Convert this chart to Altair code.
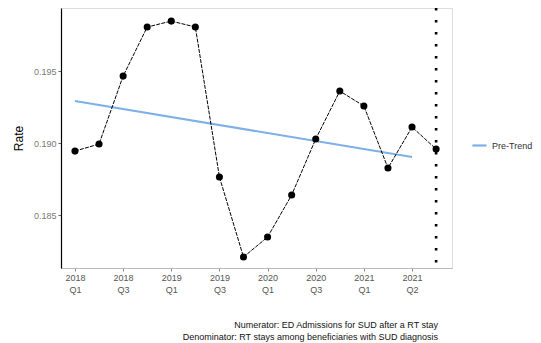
import altair as alt
import pandas as pd

# Quarterly rate series (quarter index 1 = 2018 Q1)
quarter_idx = list(range(1, 17))
rates = [0.18944, 0.18993, 0.19465, 0.19806, 0.19847, 0.19806, 0.18764, 0.18208,
         0.18347, 0.18639, 0.19028, 0.19361, 0.19257, 0.18826, 0.19111, 0.18958]

# Pre-period linear trend endpoints
trend_idx = [1, 15]
trend_vals = [0.19292, 0.18903]

# Tick labels on the x axis (every second quarter)
tick_idx = [1, 3, 5, 7, 9, 11, 13, 15]
tick_years = ["2018", "2018", "2019", "2019", "2020", "2020", "2021", "2021"]
tick_qtrs = ["Q1", "Q3", "Q1", "Q3", "Q1", "Q3", "Q1", "Q2"]

# Intervention marker
event_idx = 16

caption = ["Numerator: ED Admissions for SUD after a RT stay",
           "Denominator: RT stays among beneficiaries with SUD diagnosis"]

series = pd.DataFrame({"q": quarter_idx, "rate": rates})
trend = pd.DataFrame({"q": trend_idx, "rate": trend_vals, "series": ["Pre-Trend"] * 2})
event = pd.DataFrame({"q": [event_idx]})

label_map = "{" + ",".join(
    f"'{i}': ['{y}', '{q}']" for i, y, q in zip(tick_idx, tick_years, tick_qtrs)
) + "}"

FONT = "Liberation Sans"

x_scale = alt.Scale(domain=[0.42, 16.66], nice=False, zero=False)
y_scale = alt.Scale(domain=[0.18132, 0.19938], nice=False, zero=False)

x_axis = alt.Axis(
    values=tick_idx, title=None, grid=False,
    labelExpr=f"{label_map}[datum.value + '']",
    labelFont=FONT, labelFontSize=9, labelColor="#555555", labelLineHeight=12,
    domainColor="#bbbbbb", domainWidth=1, tickColor="#888888", tickSize=3,
    labelPadding=2,
)
y_axis = alt.Axis(
    values=[0.185, 0.190, 0.195], format=".3f", title="Rate", grid=False,
    labelFont=FONT, labelFontSize=9, labelColor="#777777",
    titleFont=FONT, titleFontSize=12, titleColor="#000000", titleFontWeight="normal",
    domainColor="#000000", domainWidth=1.2, tickColor="#666666", tickSize=3,
    titlePadding=8,
)

base_x = alt.X("q:Q", scale=x_scale, axis=x_axis)

line = alt.Chart(series).mark_line(color="black", strokeWidth=1, strokeDash=[4, 1.2]).encode(
    x=base_x,
    y=alt.Y("rate:Q", scale=y_scale, axis=y_axis),
)
points = alt.Chart(series).mark_circle(color="black", size=50, opacity=1).encode(
    x=alt.X("q:Q", scale=x_scale),
    y=alt.Y("rate:Q", scale=y_scale),
)
trend_line = alt.Chart(trend).mark_line(strokeWidth=2.2).encode(
    x=alt.X("q:Q", scale=x_scale),
    y=alt.Y("rate:Q", scale=y_scale),
    color=alt.Color(
        "series:N",
        scale=alt.Scale(domain=["Pre-Trend"], range=["#7cb0e6"]),
        legend=alt.Legend(
            title=None, orient="none", legendX=410, legendY=129,
            symbolType="stroke", symbolStrokeWidth=2.2, symbolSize=200,
            labelFont=FONT, labelFontSize=9, labelColor="#333333",
        ),
    ),
)
event_rule = alt.Chart(event).mark_rule(
    color="black", strokeWidth=2.6, strokeDash=[2.5, 9.5], strokeCap="butt"
).encode(
    x=alt.X("q:Q", scale=x_scale),
    y=alt.value(0),
    y2=alt.value(264),
)

chart = alt.layer(trend_line, line, points, event_rule).properties(
    width=391,
    height=260,
    autosize=alt.AutoSizeParams(type="none"),
    padding={"left": 61, "top": 8, "right": 89, "bottom": 75},
    title=alt.TitleParams(
        text=caption, orient="bottom", anchor="end", align="right",
        font=FONT, fontSize=9, fontWeight="normal", color="#111111",
        offset=27, lineHeight=12, dx=-95,
    ),
).configure_view(stroke=None).configure(background="white")

chart.save("out.html", embed_options={"renderer": "svg", "actions": False})
